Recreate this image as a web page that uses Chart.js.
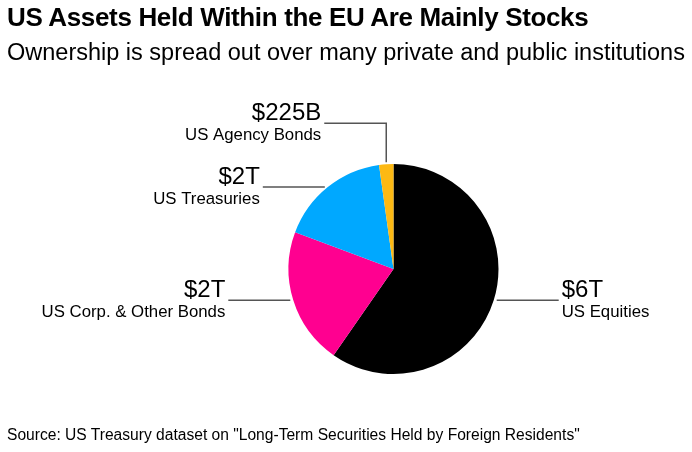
<!DOCTYPE html>
<html>
<head>
<meta charset="utf-8">
<title>US Assets Held Within the EU</title>
<script src="https://cdn.jsdelivr.net/npm/chart.js@4"></script>
<style>
  html, body { margin: 0; padding: 0; background: #fff; }
  body { width: 692px; height: 452px; position: relative; overflow: hidden; font-family: "Liberation Sans", Arial, sans-serif; color: #000; }
  canvas { position: absolute; left: 0; top: 0; }
  .txt { position: absolute; left: 7px; white-space: nowrap; }
  #title { top: 5px; font-size: 26px; line-height: 24px; font-weight: bold; letter-spacing: -0.35px; }
  #subtitle { top: 40px; font-size: 23.5px; line-height: 24px; }
  #source { top: 427px; font-size: 15.6px; line-height: 16px; }
</style>
</head>
<body>
<canvas id="assetsChart" width="692" height="452"></canvas>
<div class="txt" id="title">US Assets Held Within the EU Are Mainly Stocks</div>
<div class="txt" id="subtitle">Ownership is spread out over many private and public institutions</div>
<div class="txt" id="source">Source: US Treasury dataset on "Long-Term Securities Held by Foreign Residents"</div>
<script>
// values in $ billions
const categories = ['US Equities', 'US Corp. & Other Bonds', 'US Treasuries', 'US Agency Bonds'];
const values = [6100, 2150, 1750, 225];
const valueLabels = ['$6T', '$2T', '$2T', '$225B'];
const colors = ['#000000', '#ff0090', '#00a8ff', '#fdb913'];

// leader lines start just off the slice's mid angle and carry the two text rows
const leaderLabels = {
  id: 'leaderLabels',
  afterDraw(chart) {
    const ctx = chart.ctx;
    const arcs = chart.getDatasetMeta(0).data;
    const elbow = 62;
    const gap = 3;

    arcs.forEach((arc, i) => {
      const p = arc.getProps(['x', 'y', 'startAngle', 'endAngle', 'outerRadius'], true);
      const mid = (p.startAngle + p.endAngle) / 2;
      const sx = p.x + Math.cos(mid) * p.outerRadius;
      const sy = p.y + Math.sin(mid) * p.outerRadius;
      const onRight = Math.cos(mid) > 0;

      ctx.save();
      ctx.strokeStyle = '#555';
      ctx.lineWidth = 1.5;
      ctx.beginPath();
      let lineY = sy;
      let startX = onRight ? sx + gap : sx - gap;
      if (i === 3) {
        // the tiny top slice gets a vertical run up before turning left
        startX = sx;
        lineY = sy - 41;
        ctx.moveTo(sx, sy - 2);
        ctx.lineTo(sx, lineY);
      } else {
        ctx.moveTo(startX, lineY);
      }
      const endX = onRight ? startX + elbow : startX - elbow;
      ctx.lineTo(endX, lineY);
      ctx.stroke();

      const textX = onRight ? endX + 3 : endX - 3;
      ctx.fillStyle = '#000';
      ctx.textAlign = onRight ? 'left' : 'right';
      ctx.textBaseline = 'alphabetic';
      ctx.font = '24px "Liberation Sans", Arial, sans-serif';
      ctx.fillText(valueLabels[i], textX, lineY - 3.5);
      ctx.font = '16.8px "Liberation Sans", Arial, sans-serif';
      ctx.fillText(categories[i], textX, lineY + 17);
      ctx.restore();
    });
  }
};

new Chart(document.getElementById('assetsChart'), {
  type: 'pie',
  data: {
    labels: categories,
    datasets: [{
      data: values,
      backgroundColor: colors,
      borderWidth: 0
    }]
  },
  options: {
    responsive: false,
    animation: false,
    devicePixelRatio: 1,
    layout: {
      padding: { left: 288.5, right: 193.5, top: 164, bottom: 78 }
    },
    plugins: {
      legend: { display: false },
      tooltip: { enabled: false }
    }
  },
  plugins: [leaderLabels]
});
</script>
</body>
</html>
